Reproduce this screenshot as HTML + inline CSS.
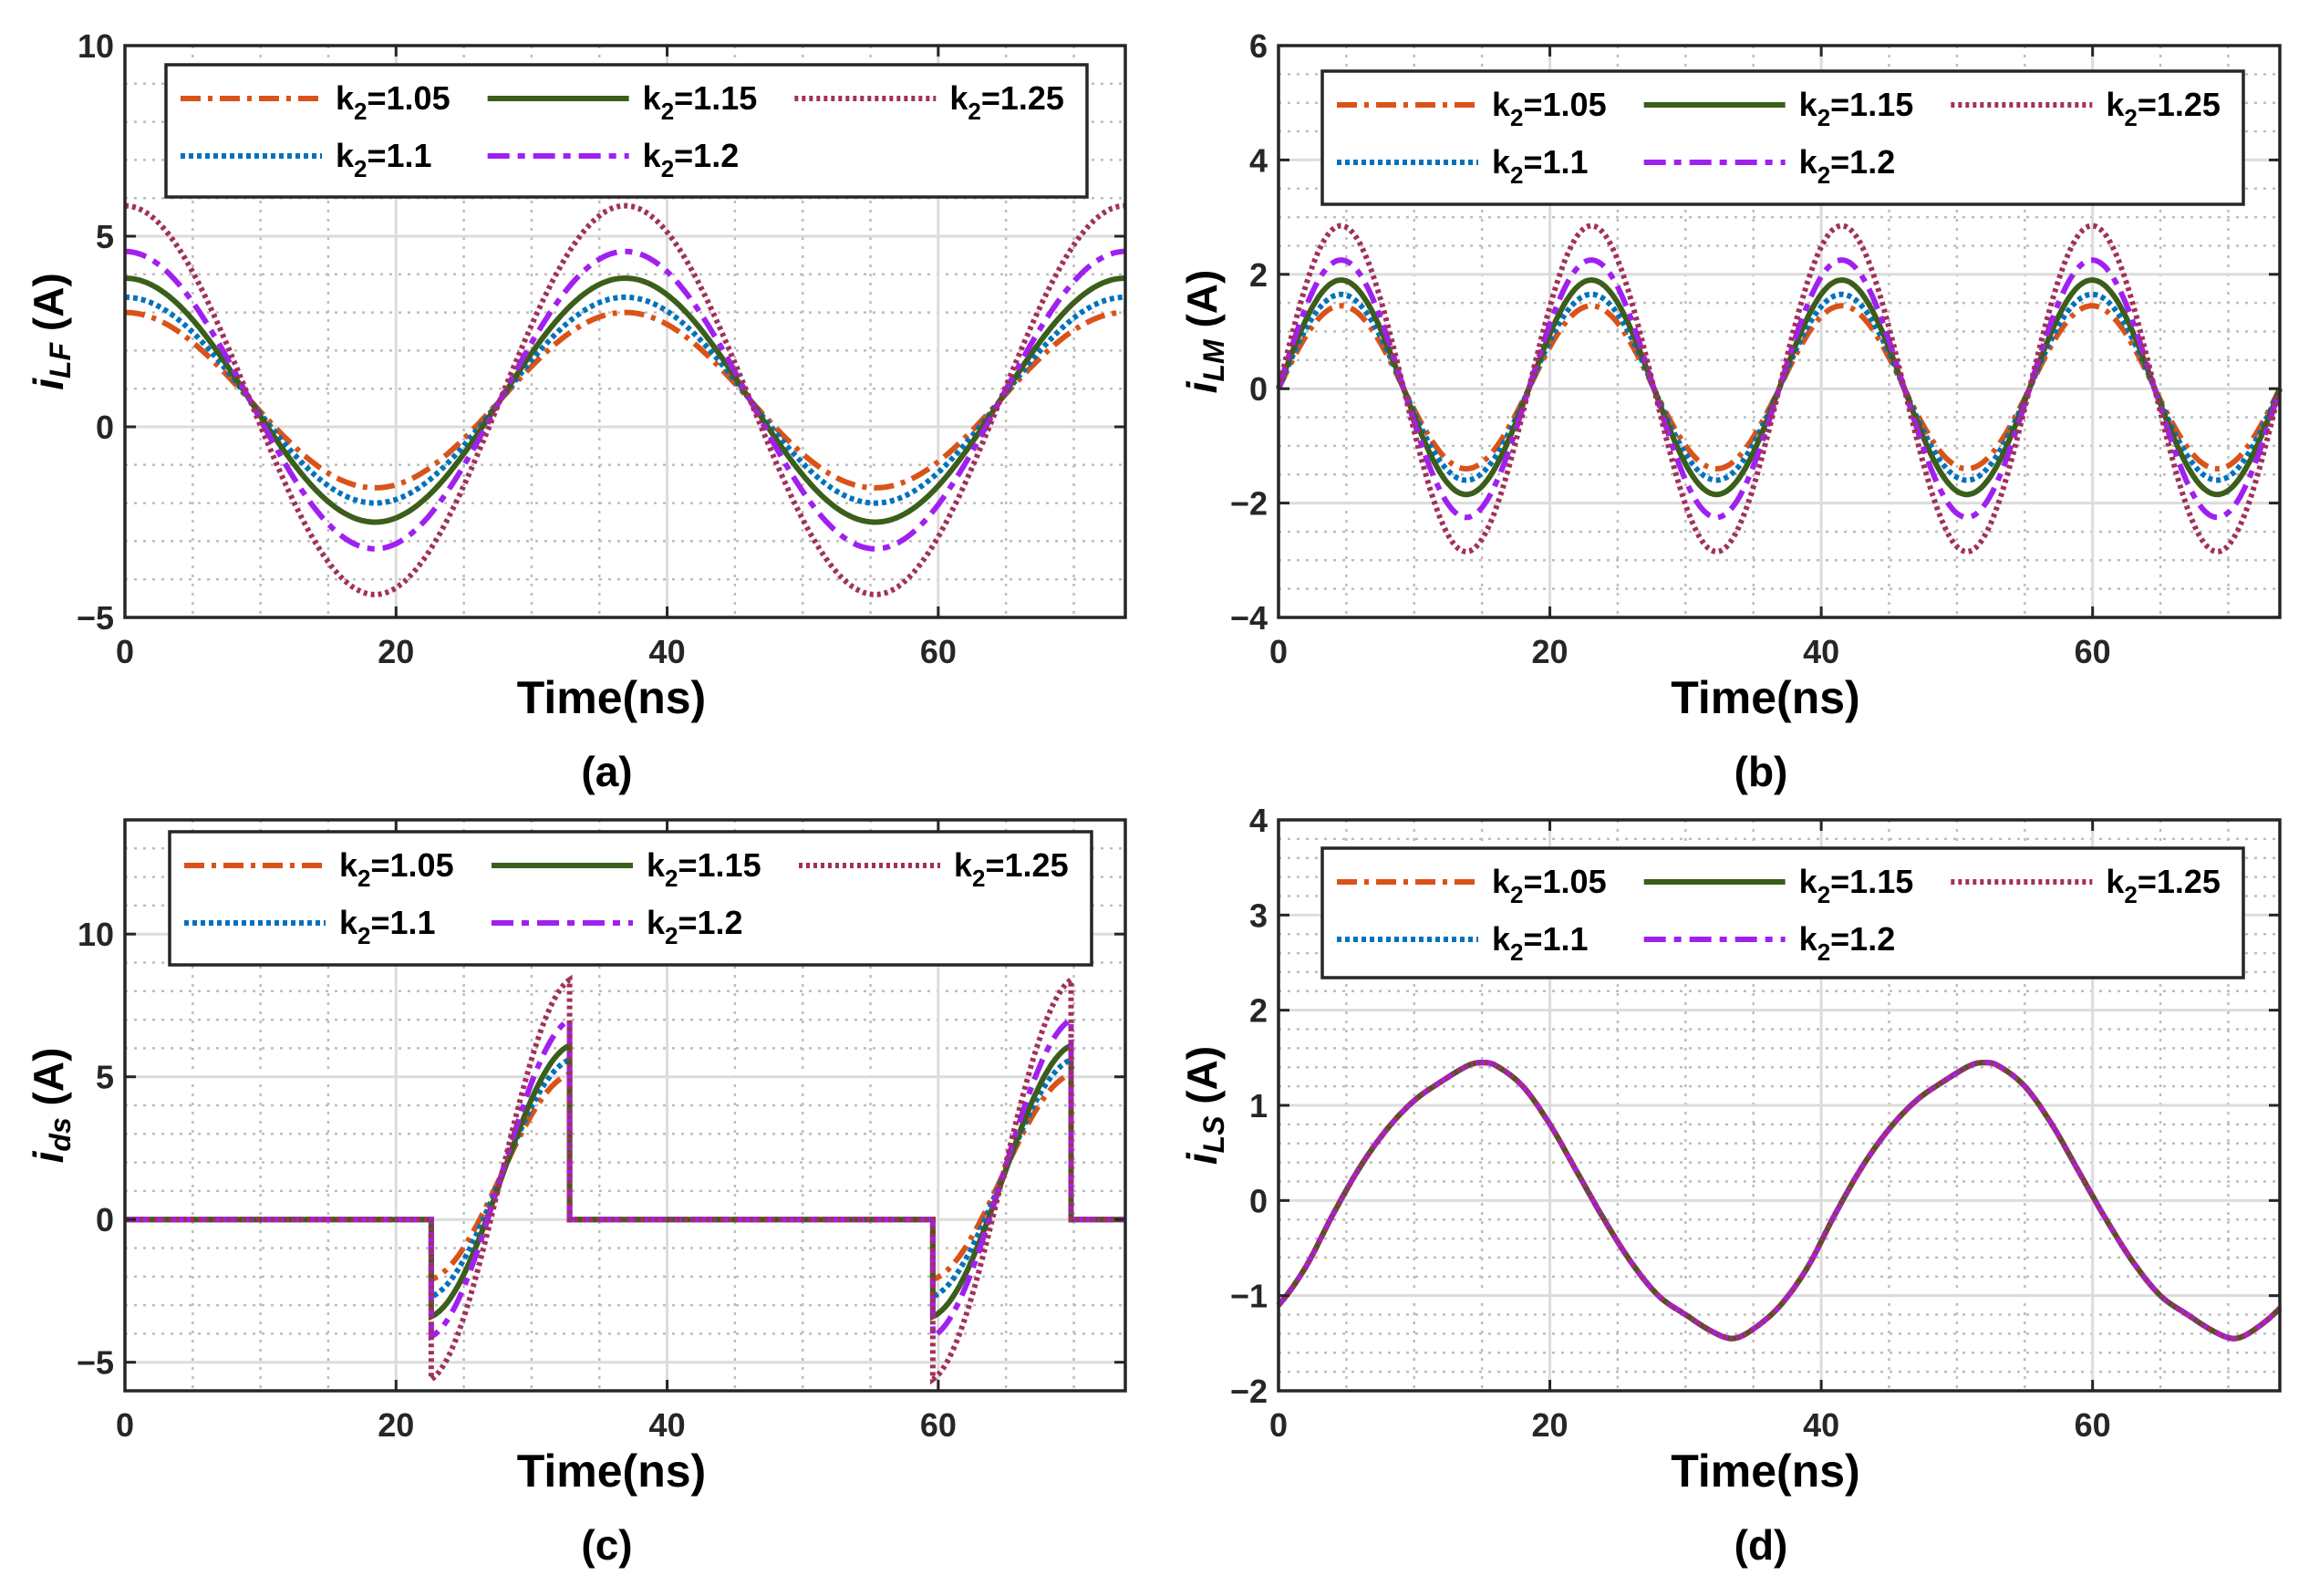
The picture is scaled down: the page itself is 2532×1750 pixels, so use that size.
<!DOCTYPE html>
<html><head><meta charset="utf-8"><style>
html,body{margin:0;padding:0;background:#fff;}
svg{display:block;font-family:"Liberation Sans",Arial,sans-serif;font-weight:bold;}
</style></head><body>
<svg id="fig" width="2532" height="1750" viewBox="0 0 2532 1750" xmlns="http://www.w3.org/2000/svg"></svg>
<script>
// ---------- data ----------
const seriesLabels = ['1.05','1.1','1.15','1.2','1.25'];
const timeMax = 73.8;
// (a) iLF
const iLFPeaks = [3.0, 3.4, 3.9, 4.6, 5.8];
const iLFTroughs = [-1.6, -2.0, -2.5, -3.2, -4.4];
const iLFPeriod = 36.9;
// (b) iLM
const iLMPeaks = [1.45, 1.65, 1.9, 2.25, 2.85];
const iLMTroughs = [-1.4, -1.6, -1.85, -2.25, -2.85];
const iLMPeriod = 18.45;
// (c) ids
const idsStart = [-2.1, -2.7, -3.4, -4.1, -5.6];
const idsEnd = [5.1, 5.6, 6.1, 7.0, 8.4];
const idsOnTimes = [22.6, 59.6];
const idsOffTimes = [32.8, 69.8];
// (d) iLS (same for all k2), one period
const iLSTimes = [0,2,4,6,8,10,12,14,15,16,18,20,22,24,26,28,30,32,33.5,35,37];
const iLSValues = [-1.1,-0.7,-0.15,0.35,0.75,1.05,1.25,1.42,1.45,1.42,1.2,0.8,0.3,-0.2,-0.65,-1.0,-1.2,-1.38,-1.45,-1.35,-1.1];
const iLSPeriod = 37;
// axes ticks
const xTicks = [0,20,40,60];
const yTicksA = [-5,0,5,10];
const yTicksB = [-4,-2,0,2,4,6];
const yTicksC = [-5,0,5,10];
const yTicksD = [-2,-1,0,1,2,3,4];

// ---------- styles ----------
const colors = ['#D95319','#0072BD','#3B5E1B','#A020F0','#A2305A'];
const dashes = ['22 8 5 8','5 4','','24 9 8 9','4 4'];
const NS = 'http://www.w3.org/2000/svg';
const svg = document.getElementById('fig');

function mk(tag, parent){ const e=document.createElementNS(NS,tag); parent.appendChild(e); return e; }

const panels = [
 {id:'a', x0:137,x1:1234,y0:50,y1:677, ymin:-5,ymax:10, yt:yTicksA, ymajor:5, yminor:1, ylab:'i', ysub:'LF', label:'(a)', legend:[182,71,1192,216]},
 {id:'b', x0:1402,x1:2500,y0:50,y1:677, ymin:-4,ymax:6, yt:yTicksB, ymajor:2, yminor:0.5, ylab:'i', ysub:'LM', label:'(b)', legend:[1450,78,2460,224]},
 {id:'c', x0:137,x1:1234,y0:899,y1:1525, ymin:-6,ymax:14, yt:yTicksC, ymajor:5, yminor:1, ylab:'i', ysub:'ds', label:'(c)', legend:[186,912,1197,1058]},
 {id:'d', x0:1402,x1:2500,y0:899,y1:1525, ymin:-2,ymax:4, yt:yTicksD, ymajor:1, yminor:0.2, ylab:'i', ysub:'LS', label:'(d)', legend:[1450,930,2460,1072]}
];

function iLSAt(t){
  const n=iLSTimes.length;
  let tt=((t%iLSPeriod)+iLSPeriod)%iLSPeriod;
  for(let i=0;i<n-1;i++){
    if(tt>=iLSTimes[i]&&tt<=iLSTimes[i+1]){
      const h=iLSTimes[i+1]-iLSTimes[i];
      const u=(tt-iLSTimes[i])/h;
      const p0=iLSValues[i], p1=iLSValues[i+1];
      const pm=i>0?iLSValues[i-1]:iLSValues[n-2];
      const hm=i>0?iLSTimes[i]-iLSTimes[i-1]:iLSPeriod-iLSTimes[n-2];
      const pp=i+2<n?iLSValues[i+2]:iLSValues[1];
      const hp=i+2<n?iLSTimes[i+2]-iLSTimes[i+1]:iLSTimes[1];
      const m0=(p1-pm)/(h+hm)*h, m1=(pp-p0)/(h+hp)*h;
      const u2=u*u,u3=u2*u;
      return (2*u3-3*u2+1)*p0+(u3-2*u2+u)*m0+(-2*u3+3*u2)*p1+(u3-u2)*m1;
    }
  }
  return iLSValues[0];
}

function seriesValue(pid, k, t){
  if(pid==='a'){ const m=(iLFPeaks[k]+iLFTroughs[k])/2, A=(iLFPeaks[k]-iLFTroughs[k])/2; return m + A*Math.cos(2*Math.PI*t/iLFPeriod); }
  if(pid==='b'){ const v=Math.sin(2*Math.PI*t/iLMPeriod); return v>=0? iLMPeaks[k]*v : -iLMTroughs[k]*v; }
  if(pid==='c'){
    for(let w=0;w<idsOnTimes.length;w++){
      if(t>=idsOnTimes[w] && t<=idsOffTimes[w]){
        const u=(t-idsOnTimes[w])/(idsOffTimes[w]-idsOnTimes[w]);
        const s=Math.sin(Math.PI*(u-0.5)*0.9)/Math.sin(0.45*Math.PI);
        return (idsStart[k]+idsEnd[k])/2 + (idsEnd[k]-idsStart[k])/2*s;
      }
    }
    return 0;
  }
  return iLSAt(t);
}

panels.forEach(p=>{
  const g=mk('g',svg);
  
  
  const X=t=>p.x0+(t/timeMax)*(p.x1-p.x0);
  const Y=v=>p.y1-(v-p.ymin)/(p.ymax-p.ymin)*(p.y1-p.y0);
  for(let t=5;t<timeMax;t+=5){ if(t%20===0) continue;
    const l=mk('line',g);  
    l.setAttribute('x1',X(t)); l.setAttribute('x2',X(t)); l.setAttribute('y1',p.y0); l.setAttribute('y2',p.y1);
    l.setAttribute('stroke','#bdbdbd'); l.setAttribute('stroke-width','2.5'); l.setAttribute('stroke-dasharray','3 7'); }
  for(let v=p.ymin;v<=p.ymax+1e-9;v+=p.yminor){ const r=Math.round(v*1000)/1000; if(Math.abs(r/p.ymajor-Math.round(r/p.ymajor))<1e-6) continue;
    const l=mk('line',g);  
    l.setAttribute('x1',p.x0); l.setAttribute('x2',p.x1); l.setAttribute('y1',Y(r)); l.setAttribute('y2',Y(r));
    l.setAttribute('stroke','#bdbdbd'); l.setAttribute('stroke-width','2.5'); l.setAttribute('stroke-dasharray','3 7'); }
  xTicks.forEach(t=>{ const l=mk('line',g);  
    l.setAttribute('x1',X(t)); l.setAttribute('x2',X(t)); l.setAttribute('y1',p.y0); l.setAttribute('y2',p.y1);
    l.setAttribute('stroke','#dcdcdc'); l.setAttribute('stroke-width','3'); });
  p.yt.forEach(v=>{ const l=mk('line',g);  
    l.setAttribute('x1',p.x0); l.setAttribute('x2',p.x1); l.setAttribute('y1',Y(v)); l.setAttribute('y2',Y(v));
    l.setAttribute('stroke','#dcdcdc'); l.setAttribute('stroke-width','3'); });
  for(let k=0;k<seriesLabels.length;k++){
    let d='';
    const pts=[];
    for(let t=0;t<=timeMax+1e-9;t+=0.1){ pts.push([t,seriesValue(p.id,k,t)]); }
    if(p.id==='c'){
      idsOnTimes.forEach(t=>{pts.push([t-1e-4,0]);pts.push([t,seriesValue('c',k,t)]);});
      idsOffTimes.forEach(t=>{pts.push([t,seriesValue('c',k,t)]);pts.push([t+1e-4,0]);});
      pts.sort((a,b)=>a[0]-b[0]);
    }
    pts.forEach((q,i)=>{ d+=(i?'L':'M')+X(q[0]).toFixed(1)+' '+Y(q[1]).toFixed(1); });
    const path=mk('path',g);
    
    
    path.setAttribute('d',d); path.setAttribute('fill','none');
    path.setAttribute('stroke',colors[k]); path.setAttribute('stroke-width','6');
    if(dashes[k]) path.setAttribute('stroke-dasharray',dashes[k]);
  }
  const box=mk('rect',g);  
  box.setAttribute('x',p.x0); box.setAttribute('y',p.y0); box.setAttribute('width',p.x1-p.x0); box.setAttribute('height',p.y1-p.y0);
  box.setAttribute('fill','none'); box.setAttribute('stroke','#262626'); box.setAttribute('stroke-width','3.5');
  xTicks.forEach(t=>{
    [[p.y1,p.y1-12],[p.y0,p.y0+12]].forEach(a=>{ const l=mk('line',g);  
      l.setAttribute('x1',X(t)); l.setAttribute('x2',X(t)); l.setAttribute('y1',a[0]); l.setAttribute('y2',a[1]); l.setAttribute('stroke','#262626'); l.setAttribute('stroke-width','3'); });
    const tx=mk('text',g);  
    tx.setAttribute('x',X(t)); tx.setAttribute('y',p.y1+50); tx.setAttribute('text-anchor','middle'); tx.setAttribute('font-size','36'); tx.setAttribute('fill','#262626'); tx.textContent=t;
  });
  p.yt.forEach(v=>{
    [[p.x0,p.x0+12],[p.x1,p.x1-12]].forEach(a=>{ const l=mk('line',g);  
      l.setAttribute('x1',a[0]); l.setAttribute('x2',a[1]); l.setAttribute('y1',Y(v)); l.setAttribute('y2',Y(v)); l.setAttribute('stroke','#262626'); l.setAttribute('stroke-width','3'); });
    const tx=mk('text',g);  
    tx.setAttribute('x',p.x0-12); tx.setAttribute('y',Y(v)+13); tx.setAttribute('text-anchor','end'); tx.setAttribute('font-size','36'); tx.setAttribute('fill','#262626'); tx.textContent=(v<0?'\u2212'+(-v):v);
  });
  const xt=mk('text',g);  
  xt.setAttribute('x',(p.x0+p.x1)/2 - 15); xt.setAttribute('y',p.y1+105); xt.setAttribute('text-anchor','middle'); xt.setAttribute('font-size','50'); xt.setAttribute('fill','#000'); xt.textContent='Time(ns)';
  const yt=mk('text',g);  
  const cy=(p.y0+p.y1)/2;
  yt.setAttribute('transform','translate('+(p.x0-68)+','+cy+') rotate(-90)'); yt.setAttribute('text-anchor','middle'); yt.setAttribute('font-size','46'); yt.setAttribute('fill','#000');
  const t1=mk('tspan',yt); t1.setAttribute('font-style','italic'); t1.textContent=p.ylab;
  const t2=mk('tspan',yt); t2.setAttribute('font-style','italic'); t2.setAttribute('font-size','32'); t2.setAttribute('dy','8'); t2.textContent=p.ysub;
  const t3=mk('tspan',yt); t3.setAttribute('dy','-8'); t3.textContent=' (A)';
  const pl=mk('text',g);  
  pl.setAttribute('x',(p.x0+p.x1)/2 - 20); pl.setAttribute('y',p.y1+185); pl.setAttribute('text-anchor','middle'); pl.setAttribute('font-size','46'); pl.setAttribute('fill','#000'); pl.textContent=p.label;
  const L=p.legend;
  const lg=mk('g',g);  
  const lb=mk('rect',lg);  
  lb.setAttribute('x',L[0]); lb.setAttribute('y',L[1]); lb.setAttribute('width',L[2]-L[0]); lb.setAttribute('height',L[3]-L[1]);
  lb.setAttribute('fill','#fff'); lb.setAttribute('stroke','#262626'); lb.setAttribute('stroke-width','3.5');
  const colW=(L[2]-L[0])/3;
  for(let k=0;k<seriesLabels.length;k++){
    const col=Math.floor(k/2), row=k%2;
    const ex=L[0]+16+col*colW, ey=L[1]+37+row*63;
    const e=mk('g',lg);  
    const ln=mk('line',e);  
    ln.setAttribute('x1',ex); ln.setAttribute('x2',ex+155); ln.setAttribute('y1',ey); ln.setAttribute('y2',ey);
    ln.setAttribute('stroke',colors[k]); ln.setAttribute('stroke-width','6'); if(dashes[k]) ln.setAttribute('stroke-dasharray',dashes[k]);
    const tx=mk('text',e);  
    tx.setAttribute('x',ex+170); tx.setAttribute('y',ey+12); tx.setAttribute('font-size','36'); tx.setAttribute('fill','#000');
    const a=mk('tspan',tx); a.textContent='k';
    const b=mk('tspan',tx); b.setAttribute('font-size','26'); b.setAttribute('dy','11'); b.textContent='2';
    const c=mk('tspan',tx); c.setAttribute('dy','-11'); c.textContent='='+seriesLabels[k];
  }
});
</script>
</body></html>
